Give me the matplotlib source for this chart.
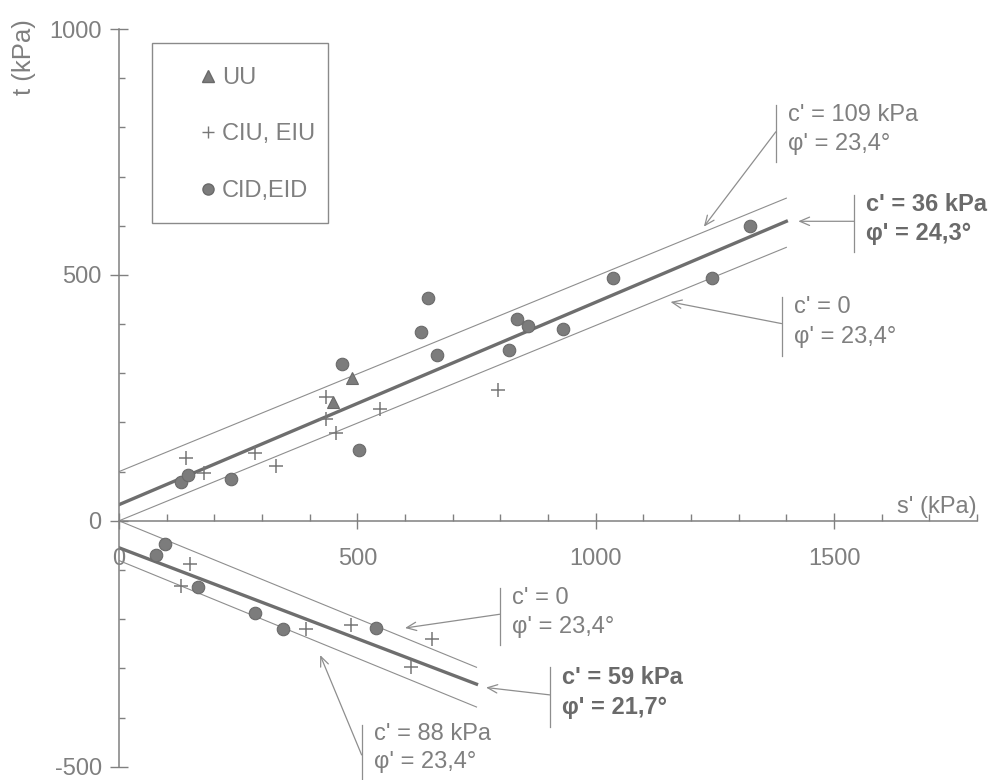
import numpy as np
import matplotlib
matplotlib.use("Agg")
import matplotlib.pyplot as plt
from matplotlib.lines import Line2D
from matplotlib.patches import Rectangle
from matplotlib.ticker import MultipleLocator

plt.rcParams['font.family'] = ['Liberation Sans', 'DejaVu Sans']
plt.rcParams['axes.unicode_minus'] = False

# ---- data ----
# compression side (t > 0)
uu_s = [448, 488]
uu_t = [242, 290]
ciu_s = [140, 179, 285, 329, 434, 434, 455, 548, 796]
ciu_t = [128, 98, 137, 111, 252, 206, 179, 227, 266]
cid_s = [130, 145, 236, 467, 504, 634, 649, 668, 819, 836, 859, 932, 1037, 1245, 1324]
cid_t = [78, 94, 86, 319, 144, 384, 454, 337, 347, 410, 396, 390, 493, 494, 600]

# extension side (t < 0)
ext_ciu_s = [149, 130, 392, 487, 656, 612]
ext_ciu_t = [-87, -132, -220, -212, -241, -297]
ext_cid_s = [96, 77, 166, 285, 345, 539]
ext_cid_t = [-48, -70, -134, -188, -220, -217]

# envelopes: c' (kPa), phi' (deg)
comp_c = [109, 36, 0]
comp_phi = [23.4, 24.3, 23.4]
comp_smax = 1400
ext_c = [0, 59, 88]
ext_phi = [23.4, 21.7, 23.4]
ext_smax = 750

GREY = '#7f7f7f'
LINE = '#8e8e8e'
DARK = '#6e6e6e'
FS = 17

fig = plt.figure(figsize=(9.94, 7.8), dpi=100)
ax = fig.add_axes([119 / 994, 13.3 / 780, 858 / 994, 737.7 / 780])
ax.set_xlim(0, 1800)
ax.set_ylim(-500, 1000)

# envelopes
s_c = np.array([0, comp_smax])
for c, phi in zip(comp_c, comp_phi):
    r = np.radians(phi)
    thick = (c == 36)
    ax.plot(s_c, c * np.cos(r) + s_c * np.sin(r),
            color=DARK if thick else LINE, lw=2.4 if thick else 0.8, zorder=2)
s_e = np.array([0, ext_smax])
for c, phi in zip(ext_c, ext_phi):
    r = np.radians(phi)
    thick = (c == 59)
    ax.plot(s_e, -(c * np.cos(r) + s_e * np.sin(r)),
            color=DARK if thick else LINE, lw=2.4 if thick else 0.8, zorder=2)

# points
mk_c = dict(marker='o', ms=9, mfc='#7c7c7c', mec='#6a6a6a', mew=0.8, ls='none', zorder=3)
mk_t = dict(marker='^', ms=9, mfc='#7c7c7c', mec='#6a6a6a', mew=0.8, ls='none', zorder=3)
mk_p = dict(marker='+', ms=10, mec='#777777', mew=1.1, ls='none', zorder=3)
ax.plot(cid_s, cid_t, **mk_c)
ax.plot(ext_cid_s, ext_cid_t, **mk_c)
ax.plot(uu_s, uu_t, **mk_t)
ax.plot(ciu_s, ciu_t, **mk_p)
ax.plot(ext_ciu_s, ext_ciu_t, **mk_p)

# axes through the origin
for side in ['top', 'right']:
    ax.spines[side].set_visible(False)
ax.spines['bottom'].set_position(('data', 0))
for side in ['left', 'bottom']:
    ax.spines[side].set_color('#808080')
    ax.spines[side].set_linewidth(1.1)

ax.set_xticks([0, 500, 1000, 1500])
ax.set_yticks([-500, 0, 500, 1000])
ax.xaxis.set_minor_locator(MultipleLocator(100))
ax.yaxis.set_minor_locator(MultipleLocator(100))
ax.tick_params(axis='x', which='major', direction='inout', length=11, width=1,
               color='#808080', labelcolor=GREY, labelsize=FS, pad=14)
ax.tick_params(axis='x', which='minor', direction='in', length=5, width=1, color='#808080')
ax.tick_params(axis='y', which='major', direction='inout', length=13, width=1,
               color='#808080', labelcolor=GREY, labelsize=FS, pad=6)
ax.tick_params(axis='y', which='minor', direction='in', length=4.5, width=1, color='#808080')

ax.set_ylabel('t (kPa)', fontsize=18.5, color=GREY)
ax.yaxis.set_label_coords(-0.097, 0.962)
ax.set_xlabel("s' (kPa)", fontsize=FS, color=GREY, loc='right', va='center')
ax.xaxis.set_label_coords(1.0, 0.352)

# legend
handles = [
    Line2D([], [], marker='^', ms=8, mfc='#7c7c7c', mec='#6a6a6a', ls='none'),
    Line2D([], [], marker='+', ms=9, mec='#777777', mew=1.0, ls='none'),
    Line2D([], [], marker='o', ms=8, mfc='#7c7c7c', mec='#6a6a6a', ls='none'),
]
leg = ax.legend(handles, ['UU', 'CIU, EIU', 'CID,EID'], loc='upper left',
                bbox_to_anchor=(199.5 / 994, (780 - 67) / 780),
                bbox_transform=fig.transFigure, frameon=False, fontsize=FS,
                handlelength=0.7, handletextpad=0.25, labelspacing=1.46,
                borderpad=0, borderaxespad=0)
for txt in leg.get_texts():
    txt.set_color(GREY)
fig.patches.append(Rectangle((152 / 994, (780 - 222.7) / 780), 176 / 994, 180 / 780,
                             transform=fig.transFigure, fill=False,
                             edgecolor='#8a8a8a', lw=1.0))

# annotations: (bar x, bar y0, bar y1, arrow start y, arrow tip, line1, line2, bold)
notes = [
    (1378, 845, 730, 791, (1227, 598), "c' = 109 kPa", "φ' = 23,4°", False),
    (1542, 662, 547, 609, (1425, 609), "c' = 36 kPa", "φ' = 24,3°", True),
    (1390, 455, 335, 401, (1157, 445), "c' = 0", "φ' = 23,4°", False),
    (799, -137, -253, -190, (600, -218), "c' = 0", "φ' = 23,4°", False),
    (904, -297, -419, -354, (770, -339), "c' = 59 kPa", "φ' = 21,7°", True),
    (509, -415, -527, -476, (422, -273), "c' = 88 kPa", "φ' = 23,4°", False),
]
for bx, y0, y1, ya, tip, l1, l2, bold in notes:
    ax.plot([bx, bx], [y0, y1], color=LINE, lw=0.9, clip_on=False)
    ax.annotate('', xy=tip, xytext=(bx, ya),
                arrowprops=dict(arrowstyle='->,head_length=0.7,head_width=0.3',
                                color=LINE, lw=0.9, shrinkA=0, shrinkB=0),
                annotation_clip=False)
    col = '#6a6a6a' if bold else GREY
    w = 'bold' if bold else 'normal'
    dy = (y0 - y1)
    ax.text(bx + 26, y0 - dy * 0.17, l1, fontsize=FS, color=col, weight=w,
            va='center', ha='left', clip_on=False)
    ax.text(bx + 26, y0 - dy * 0.68, l2, fontsize=FS, color=col, weight=w,
            va='center', ha='left', clip_on=False)

fig.savefig('out.png', dpi=100)
